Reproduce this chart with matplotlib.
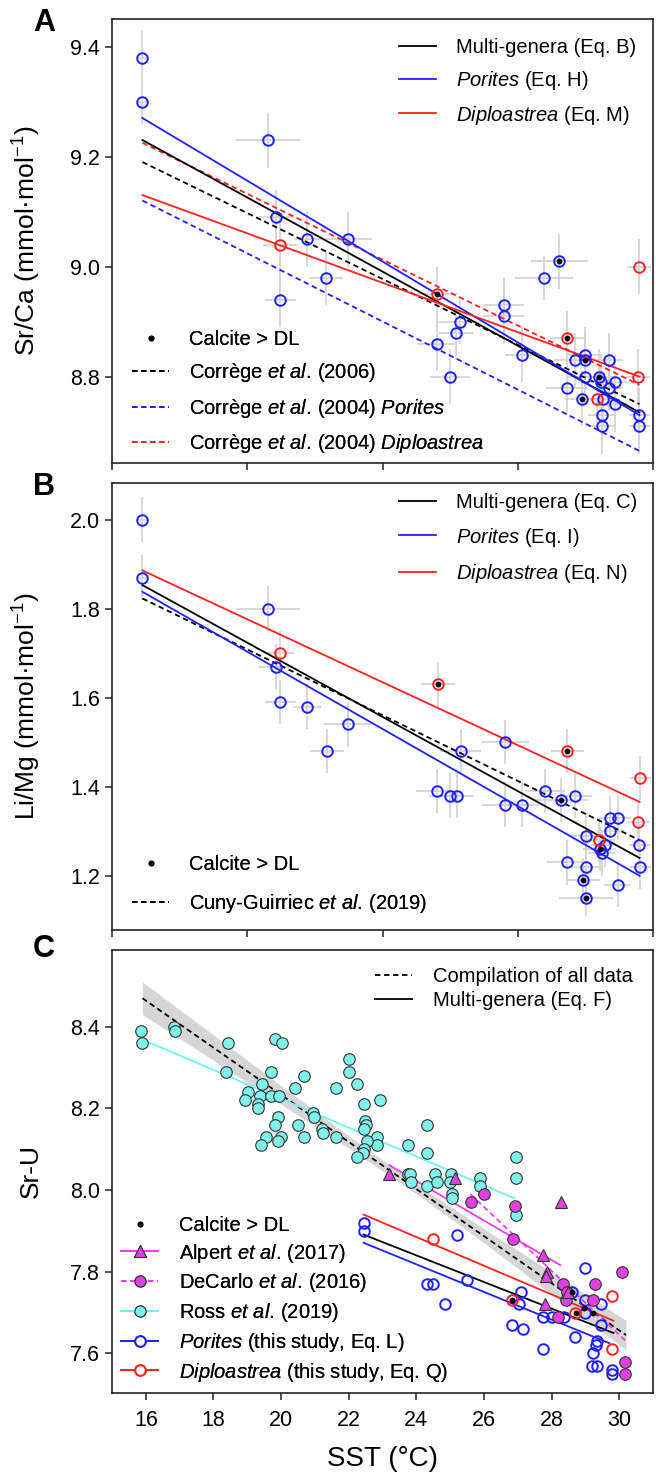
import matplotlib
matplotlib.use('Agg')
import matplotlib.pyplot as plt
from matplotlib import font_manager
from matplotlib.lines import Line2D
import numpy as np

# ---------------- fonts ----------------
names = {f.name for f in font_manager.fontManager.ttflist}
FONT = 'Liberation Sans Narrow' if 'Liberation Sans Narrow' in names else 'Liberation Sans'
NARROW = FONT == 'Liberation Sans Narrow'
plt.rcParams['font.family'] = [FONT, 'DejaVu Sans']
plt.rcParams['mathtext.fontset'] = 'custom'
plt.rcParams['mathtext.rm'] = FONT
plt.rcParams['mathtext.it'] = FONT + ':italic'
plt.rcParams['mathtext.bf'] = FONT + ':bold'

# ---------------- data: panel A (Sr/Ca) ----------------
a_por_sst = [15.90, 15.90, 19.61, 19.86, 19.98, 20.77, 21.34, 21.98, 24.61, 25.00, 25.18, 25.28,
             26.58, 26.58, 27.12, 27.78, 28.23, 28.45, 28.68, 29.00, 29.00, 29.00, 28.91, 29.39,
             29.46, 29.52, 29.48, 29.48, 29.71, 29.70, 29.88, 29.87, 30.60, 30.60]
a_por_val = [9.38, 9.30, 9.23, 9.09, 8.94, 9.05, 8.98, 9.05, 8.86, 8.80, 8.88, 8.90,
             8.93, 8.91, 8.84, 8.98, 9.01, 8.78, 8.83, 8.84, 8.83, 8.80, 8.76, 8.80,
             8.79, 8.76, 8.73, 8.71, 8.83, 8.78, 8.79, 8.75, 8.73, 8.71]
a_por_xerr = [0.15, 0.15, 0.95, 0.5, 0.45, 0.4, 0.5, 0.7, 0.6, 0.6, 0.5, 0.6,
              0.6, 0.6, 0.5, 0.85, 0.85, 0.6, 0.6, 0.5, 0.5, 0.5, 0.5, 0.5,
              0.4, 0.4, 0.4, 0.4, 0.4, 0.4, 0.4, 0.4, 0.3, 0.3]
a_por_yerr = [0.05, 0.04, 0.05, 0.05, 0.05, 0.05, 0.05, 0.05, 0.05, 0.05, 0.05, 0.04,
              0.05, 0.05, 0.05, 0.04, 0.05, 0.05, 0.05, 0.05, 0.05, 0.05, 0.05, 0.05,
              0.05, 0.05, 0.05, 0.05, 0.05, 0.04, 0.05, 0.05, 0.05, 0.05]
a_dip_sst = [19.98, 24.61, 28.45, 29.34, 30.60, 30.55]
a_dip_val = [9.04, 8.95, 8.87, 8.76, 9.00, 8.80]
a_dip_xerr = [0.5, 0.6, 0.5, 0.4, 0.35, 0.35]
a_dip_yerr = [0.05, 0.05, 0.05, 0.05, 0.05, 0.05]
a_cal_sst = [24.61, 28.23, 28.45, 29.00, 29.39, 28.91]
a_cal_val = [8.95, 9.01, 8.87, 8.83, 8.80, 8.76]

a_fit_x = [15.9, 30.6]
a_multi_y = [9.23, 8.735]
a_por_fit_y = [9.27, 8.73]
a_dip_fit_y = [9.13, 8.80]
a_corr06_y = [9.19, 8.75]
a_corr04p_y = [9.12, 8.665]
a_corr04d_y = [9.225, 8.785]

# ---------------- data: panel B (Li/Mg) ----------------
b_por_sst = [15.90, 15.90, 19.61, 19.86, 19.98, 20.77, 21.98, 21.36, 25.31, 24.60, 25.00, 25.20,
             26.63, 26.63, 27.14, 27.81, 28.27, 28.69, 29.73, 29.96, 29.73, 29.02, 29.57, 29.42,
             29.49, 30.60, 28.47, 29.02, 30.63, 28.94, 29.96, 29.01]
b_por_val = [2.00, 1.87, 1.80, 1.67, 1.59, 1.58, 1.54, 1.48, 1.48, 1.39, 1.38, 1.38,
             1.50, 1.36, 1.36, 1.39, 1.37, 1.38, 1.33, 1.33, 1.30, 1.29, 1.27, 1.26,
             1.25, 1.27, 1.23, 1.22, 1.22, 1.19, 1.18, 1.15]
b_por_xerr = [0.15, 0.15, 0.95, 0.5, 0.45, 0.4, 0.7, 0.5, 0.6, 0.6, 0.6, 0.5,
              0.7, 0.7, 0.5, 0.6, 0.8, 0.5, 0.4, 0.4, 0.4, 0.5, 0.4, 0.5,
              0.4, 0.3, 0.6, 0.5, 0.3, 0.5, 0.4, 0.8]
b_por_yerr = [0.05, 0.05, 0.05, 0.05, 0.05, 0.05, 0.05, 0.05, 0.05, 0.05, 0.05, 0.05,
              0.05, 0.05, 0.05, 0.05, 0.05, 0.05, 0.05, 0.05, 0.05, 0.05, 0.05, 0.05,
              0.05, 0.05, 0.05, 0.05, 0.05, 0.05, 0.05, 0.04]
b_dip_sst = [19.98, 24.65, 28.47, 30.63, 30.57, 29.39]
b_dip_val = [1.70, 1.63, 1.48, 1.42, 1.32, 1.28]
b_dip_xerr = [0.4, 0.5, 0.5, 0.3, 0.3, 0.5]
b_dip_yerr = [0.05, 0.05, 0.05, 0.05, 0.05, 0.05]
b_cal_sst = [24.65, 28.47, 28.27, 29.42, 28.94, 29.01]
b_cal_val = [1.63, 1.48, 1.37, 1.26, 1.19, 1.15]

b_fit_x = [15.9, 30.6]
b_multi_y = [1.853, 1.24]
b_por_fit_y = [1.838, 1.20]
b_dip_fit_y = [1.886, 1.366]
b_cuny_y = [1.823, 1.28]

# ---------------- data: panel C (Sr-U) ----------------
ross_sst = [15.86, 15.89, 16.82, 16.85, 18.42, 18.38, 19.81, 20.03, 19.71, 20.67, 20.40, 19.44,
            19.02, 18.94, 19.39, 19.31, 19.31, 19.71, 19.93, 20.93, 20.96, 19.91, 19.81, 20.50,
            20.67, 19.54, 19.42, 20.01, 19.90, 21.21, 21.23, 21.63, 21.63, 22.02, 22.02, 22.24,
            22.44, 22.93, 22.49, 22.50, 22.44, 22.83, 22.83, 22.53, 22.45, 22.41, 22.24, 24.33,
            23.74, 24.31, 23.74, 23.82, 23.83, 24.31, 24.56, 24.60, 25.03, 25.00, 25.05, 25.05,
            25.89, 25.89, 26.95, 26.95, 26.95]
ross_sru = [8.39, 8.36, 8.40, 8.39, 8.36, 8.29, 8.37, 8.36, 8.29, 8.28, 8.25, 8.26,
            8.24, 8.22, 8.23, 8.21, 8.20, 8.23, 8.23, 8.19, 8.18, 8.18, 8.16, 8.16,
            8.13, 8.13, 8.11, 8.13, 8.12, 8.15, 8.14, 8.13, 8.25, 8.32, 8.29, 8.26,
            8.21, 8.22, 8.17, 8.16, 8.15, 8.13, 8.11, 8.12, 8.10, 8.09, 8.08, 8.16,
            8.11, 8.09, 8.04, 8.04, 8.02, 8.01, 8.04, 8.02, 8.04, 8.02, 7.99, 7.98,
            8.03, 8.01, 8.08, 8.03, 7.94]
alpert_sst = [23.18, 25.13, 27.76, 27.86, 27.83, 27.80, 28.50, 28.28]
alpert_sru = [8.04, 8.03, 7.84, 7.80, 7.79, 7.72, 7.75, 7.97]
decarlo_sst = [25.62, 25.99, 26.92, 26.87, 28.18, 28.35, 28.45, 28.42, 29.22, 29.29, 30.08, 30.18, 30.16]
decarlo_sru = [7.97, 7.99, 7.96, 7.88, 7.69, 7.77, 7.75, 7.73, 7.73, 7.77, 7.80, 7.58, 7.55]
c_por_sst = [22.44, 22.44, 24.33, 24.50, 24.85, 25.20, 25.50, 26.82, 27.05, 27.10, 27.15, 27.75,
             27.75, 28.00, 28.38, 28.60, 28.70, 28.99, 29.00, 29.00, 29.19, 29.24, 29.30, 29.34,
             29.34, 29.47, 29.47, 29.80, 29.80]
c_por_sru = [7.92, 7.90, 7.77, 7.77, 7.72, 7.89, 7.78, 7.67, 7.72, 7.75, 7.66, 7.69,
             7.61, 7.69, 7.69, 7.75, 7.64, 7.73, 7.81, 7.70, 7.57, 7.60, 7.62, 7.63,
             7.57, 7.72, 7.67, 7.56, 7.55]
c_dip_sst = [24.48, 26.83, 28.70, 29.80, 29.78]
c_dip_sru = [7.88, 7.73, 7.70, 7.74, 7.61]
c_cal_sst = [26.83, 28.60, 28.73, 28.96, 29.22]
c_cal_sru = [7.73, 7.75, 7.70, 7.71, 7.70]

comp_x = [15.9, 30.2]
comp_y = [8.47, 7.645]
band_x = [15.9, 18.0, 20.0, 22.0, 24.0, 26.0, 28.0, 30.2]
band_hi = [8.51, 8.38, 8.256, 8.133, 8.015, 7.905, 7.799, 7.681]
band_lo = [8.43, 8.318, 8.21, 8.103, 7.991, 7.871, 7.745, 7.609]
c_multi_x = [22.44, 29.83]
c_multi_y = [7.891, 7.65]
c_dip_fit_x = [22.44, 29.83]
c_dip_fit_y = [7.94, 7.68]
c_por_fit_x = [22.44, 29.71]
c_por_fit_y = [7.871, 7.625]
ross_fit_x = [15.86, 26.9]
ross_fit_y = [8.37, 7.98]
alpert_fit_x = [23.2, 28.26]
alpert_fit_y = [8.061, 7.816]
decarlo_fit_x = [25.6, 30.2]
decarlo_fit_y = [7.99, 7.63]

a_yticks = [8.8, 9.0, 9.2, 9.4]
b_yticks = [1.2, 1.4, 1.6, 1.8, 2.0]
c_yticks = [7.6, 7.8, 8.0, 8.2, 8.4]
ab_xticks = [15, 19, 23, 27, 31]
c_xticks = [16, 18, 20, 22, 24, 26, 28, 30]

# ---------------- style ----------------
BLUE = '#2020ff'
RED = '#ff2020'
MAG_LINE = '#f03cf0'
MAG_FILL = '#e040e0'
CYAN_FILL = '#80f2ec'
CYAN_LINE = '#6ff3f3'
ERR = '#d2d2d2'
EDGE = '#333333'
LW = 1.3
DASH = (3.0, 2.0)

if NARROW:
    FS_TICK, FS_LEG, FS_LAB, FS_LET = 17, 16.5, 20, 22
else:
    FS_TICK, FS_LEG, FS_LAB, FS_LET = 15.5, 14.5, 19, 22
FSPX = FS_LEG * 100 / 72.0

MS_O = 7.6
MEW_O = 1.4

W, H = 656, 1474
fig = plt.figure(figsize=(W / 100, H / 100), dpi=100)
L, R = 112, 653


def add_ax(top, bottom):
    return fig.add_axes([L / W, 1 - bottom / H, (R - L) / W, (bottom - top) / H])


axA = add_ax(19, 463)
axB = add_ax(483, 930)
axC = add_ax(950, 1393)

for ax in (axA, axB, axC):
    ax.set_xlim(15, 31)
    for s in ax.spines.values():
        s.set_linewidth(1.2)
        s.set_color('#222222')
    ax.tick_params(direction='out', length=5, width=1.1, labelsize=FS_TICK, color='#222222')
    ax.yaxis.set_label_coords(-0.128, 0.5)

axA.set_ylim(8.643, 9.45)
axB.set_ylim(1.078, 2.0825)
axC.set_ylim(7.503, 8.588)
axA.set_yticks(a_yticks)
axA.set_yticklabels([f'{v:.1f}' for v in a_yticks])
axB.set_yticks(b_yticks)
axB.set_yticklabels([f'{v:.1f}' for v in b_yticks])
axC.set_yticks(c_yticks)
axC.set_yticklabels([f'{v:.1f}' for v in c_yticks])
for ax in (axA, axB):
    ax.set_xticks(ab_xticks)
    ax.set_xticklabels([])
axC.set_xticks(c_xticks)
axC.set_xticklabels([str(v) for v in c_xticks])
axC.tick_params(axis='x', pad=7)

axA.set_ylabel('Sr/Ca (mmol·mol$^{-1}$)', fontsize=FS_LAB)
axB.set_ylabel('Li/Mg (mmol·mol$^{-1}$)', fontsize=FS_LAB)
axC.set_ylabel('Sr-U', fontsize=FS_LAB)
axC.set_xlabel('SST (°C)', fontsize=FS_LAB + 1, labelpad=11)

for lab, yy in (('A', 23), ('B', 487), ('C', 949)):
    fig.text(44 / W, 1 - yy / H, lab, fontsize=FS_LET, fontweight='bold',
             ha='center', va='center', family=['Liberation Sans', 'DejaVu Sans'])


def open_pts(ax, x, y, c, z=4):
    ax.plot(x, y, ls='none', marker='o', ms=MS_O, mfc='none', mec=c, mew=MEW_O, zorder=z)


def calc_pts(ax, x, y):
    ax.plot(x, y, ls='none', marker='o', ms=4.2, mfc='black', mec='black', mew=0, zorder=6)


# ---------------- panel A ----------------
axA.errorbar(a_por_sst, a_por_val, xerr=a_por_xerr, yerr=a_por_yerr, fmt='none',
             ecolor=ERR, elinewidth=1.2, capsize=0, zorder=1)
axA.errorbar(a_dip_sst, a_dip_val, xerr=a_dip_xerr, yerr=a_dip_yerr, fmt='none',
             ecolor=ERR, elinewidth=1.2, capsize=0, zorder=1)
axA.plot(a_fit_x, a_corr06_y, color='black', lw=LW, dashes=DASH, zorder=2)
axA.plot(a_fit_x, a_corr04p_y, color=BLUE, lw=LW, dashes=DASH, zorder=2)
axA.plot(a_fit_x, a_corr04d_y, color=RED, lw=LW, dashes=DASH, zorder=2)
axA.plot(a_fit_x, a_multi_y, color='black', lw=LW, zorder=3)
axA.plot(a_fit_x, a_por_fit_y, color=BLUE, lw=LW, zorder=3)
axA.plot(a_fit_x, a_dip_fit_y, color=RED, lw=LW, zorder=3)
open_pts(axA, a_por_sst, a_por_val, BLUE)
open_pts(axA, a_dip_sst, a_dip_val, RED)
calc_pts(axA, a_cal_sst, a_cal_val)


def legend(ax, handles, labels, x, ytop, pitch_px, hl_px=37, htp_px=20):
    textpx = FSPX * 1.12
    ls = max((pitch_px - textpx) / FSPX, 0.0)
    lg = ax.legend(handles, labels, loc='upper left', bbox_to_anchor=(x, ytop),
                   frameon=False, fontsize=FS_LEG, borderpad=0, borderaxespad=0,
                   handlelength=hl_px / FSPX, handletextpad=htp_px / FSPX,
                   labelspacing=ls, handleheight=0.7)
    ax.add_artist(lg)
    return lg


def ln(c, dashed=False, **kw):
    if dashed:
        return Line2D([], [], color=c, lw=LW, dashes=DASH, **kw)
    return Line2D([], [], color=c, lw=LW, **kw)


calcite_h = Line2D([], [], ls='none', marker='o', ms=4.2, mfc='black', mec='black', mew=0)

legend(axA, [ln('black'), ln(BLUE), ln(RED)],
       ['Multi-genera (Eq. B)', r'$\mathit{Porites}$ (Eq. H)', r'$\mathit{Diploastrea}$ (Eq. M)'],
       0.53, 0.958, 34.5)
legend(axA, [calcite_h, ln('black', True), ln(BLUE, True), ln(RED, True)],
       ['Calcite > DL', r'Corrège $\mathit{et\ al.}\,$(2006)',
        r'Corrège $\mathit{et\ al.}\,$(2004) $\mathit{Porites}$',
        r'Corrège $\mathit{et\ al.}\,$(2004) $\mathit{Diploastrea}$'],
       0.037, 0.30, 35)

# ---------------- panel B ----------------
axB.errorbar(b_por_sst, b_por_val, xerr=b_por_xerr, yerr=b_por_yerr, fmt='none',
             ecolor=ERR, elinewidth=1.2, capsize=0, zorder=1)
axB.errorbar(b_dip_sst, b_dip_val, xerr=b_dip_xerr, yerr=b_dip_yerr, fmt='none',
             ecolor=ERR, elinewidth=1.2, capsize=0, zorder=1)
axB.plot(b_fit_x, b_cuny_y, color='black', lw=LW, dashes=DASH, zorder=2)
axB.plot(b_fit_x, b_multi_y, color='black', lw=LW, zorder=3)
axB.plot(b_fit_x, b_por_fit_y, color=BLUE, lw=LW, zorder=3)
axB.plot(b_fit_x, b_dip_fit_y, color=RED, lw=LW, zorder=3)
open_pts(axB, b_por_sst, b_por_val, BLUE)
open_pts(axB, b_dip_sst, b_dip_val, RED)
calc_pts(axB, b_cal_sst, b_cal_val)

legend(axB, [ln('black'), ln(BLUE), ln(RED)],
       ['Multi-genera (Eq. C)', r'$\mathit{Porites}$ (Eq. I)', r'$\mathit{Diploastrea}$ (Eq. N)'],
       0.53, 0.977, 35.8)
legend(axB, [calcite_h, ln('black', True)],
       ['Calcite > DL', r'Cuny-Guirriec $\mathit{et\ al.}\,$(2019)'],
       0.037, 0.168, 41)

# ---------------- panel C ----------------
axC.fill_between(band_x, band_lo, band_hi, color='#d6d6d6', lw=0, zorder=1)
axC.plot(comp_x, comp_y, color='black', lw=LW, dashes=DASH, zorder=2)
axC.plot(ross_fit_x, ross_fit_y, color=CYAN_LINE, lw=LW, zorder=2)
axC.plot(alpert_fit_x, alpert_fit_y, color=MAG_LINE, lw=LW, zorder=2)
axC.plot(decarlo_fit_x, decarlo_fit_y, color=MAG_LINE, lw=LW, dashes=DASH, zorder=2)
axC.plot(c_multi_x, c_multi_y, color='black', lw=LW, zorder=2)
axC.plot(c_dip_fit_x, c_dip_fit_y, color=RED, lw=LW, zorder=2)
axC.plot(c_por_fit_x, c_por_fit_y, color=BLUE, lw=LW, zorder=2)
axC.plot(ross_sst, ross_sru, ls='none', marker='o', ms=8.3, mfc=CYAN_FILL, mec=EDGE, mew=0.8, zorder=3)
open_pts(axC, c_por_sst, c_por_sru, BLUE, z=4)
open_pts(axC, c_dip_sst, c_dip_sru, RED, z=4)
axC.plot(decarlo_sst, decarlo_sru, ls='none', marker='o', ms=8.3, mfc=MAG_FILL, mec=EDGE, mew=0.8, zorder=5)
axC.plot(alpert_sst, alpert_sru, ls='none', marker='^', ms=9, mfc=MAG_FILL, mec=EDGE, mew=0.8, zorder=5)
calc_pts(axC, c_cal_sst, c_cal_sru)

legend(axC, [ln('black', True), ln('black')],
       ['Compilation of all data', 'Multi-genera (Eq. F)'],
       0.486, 0.962, 28, htp_px=21)
h_alp = Line2D([], [], color=MAG_LINE, lw=LW, marker='^', ms=8.5, mfc=MAG_FILL, mec=EDGE, mew=0.8)
h_dec = Line2D([], [], color=MAG_LINE, lw=LW, dashes=DASH, marker='o', ms=8, mfc=MAG_FILL, mec=EDGE, mew=0.8)
h_ros = Line2D([], [], color=CYAN_LINE, lw=LW, marker='o', ms=8, mfc=CYAN_FILL, mec=EDGE, mew=0.8)
h_por = Line2D([], [], color=BLUE, lw=LW, marker='o', ms=MS_O, mfc='white', mec=BLUE, mew=MEW_O)
h_dip = Line2D([], [], color=RED, lw=LW, marker='o', ms=MS_O, mfc='white', mec=RED, mew=MEW_O)
legend(axC, [calcite_h, h_alp, h_dec, h_ros, h_por, h_dip],
       ['Calcite > DL', r'Alpert $\mathit{et\ al.}\,$(2017)', r'DeCarlo $\mathit{et\ al.}\,$(2016)',
        r'Ross $\mathit{et\ al.}\,$(2019)', r'$\mathit{Porites}$ (this study, Eq. L)',
        r'$\mathit{Diploastrea}$ (this study, Eq. Q)'],
       0.017, 0.40, 29.3, htp_px=21)

fig.savefig('out.png', dpi=100)
